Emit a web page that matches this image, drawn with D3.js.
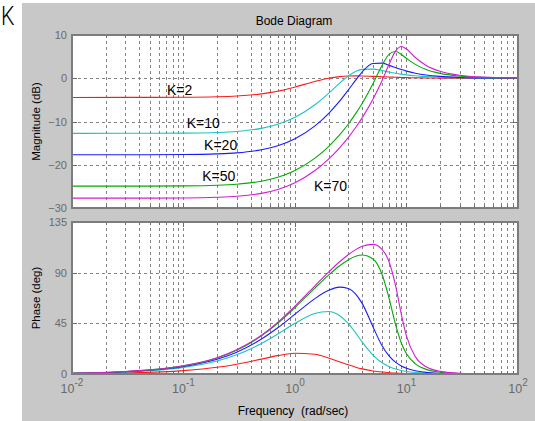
<!DOCTYPE html>
<html lang="en">
<head>
  <meta charset="UTF-8">
  <title>Bode Diagram</title>
  <script src="https://cdn.jsdelivr.net/npm/d3@7"></script>
  <style>
    body {
      margin: 0;
      background: white;
    }

    svg {
      display: block;
      font-family: "Liberation Sans", Arial, sans-serif;
    }
  </style>
</head>
<body>
  <div id="chart"></div>
  <script>
    // frequency samples (rad/sec) shared by every curve
    const freqs = [0.01, 0.03, 0.1, 0.2, 0.3, 0.5, 0.7, 1, 1.5, 2, 2.5, 3, 3.5, 4, 5, 6, 7, 8, 9, 10, 12, 15, 20, 30, 50, 100]

    const gains = ['K=2', 'K=10', 'K=20', 'K=50', 'K=70']

    // magnitude (dB)
    const magK2 = [-4.44, -4.43, -4.40, -4.29, -4.11, -3.61, -3.00, -2.04, -0.76, 0, 0.37, 0.51, 0.54, 0.52, 0.43, 0.35, 0.28, 0.23, 0.19, 0.15, 0.11, 0.07, 0.04, 0.02, 0.01, 0]
    const magK10 = [-12.74, -12.73, -12.69, -12.54, -12.30, -11.59, -10.65, -9.03, -6.18, -3.49, -1.19, 0.51, 1.56, 2.05, 2.11, 1.78, 1.44, 1.17, 0.96, 0.79, 0.57, 0.37, 0.21, 0.10, 0.04, 0.01]
    const magK20 = [-17.69, -17.69, -17.64, -17.49, -17.25, -16.54, -15.61, -13.98, -11.06, -8.16, -5.37, -2.76, -0.44, 1.44, 3.40, 3.49, 2.98, 2.44, 2.00, 1.65, 1.17, 0.76, 0.43, 0.19, 0.07, 0.02]
    const magK50 = [-24.94, -24.94, -24.89, -24.75, -24.51, -23.82, -22.91, -21.34, -18.54, -15.79, -13.15, -10.63, -8.19, -5.83, -1.27, 2.84, 5.59, 6.17, 5.50, 4.61, 3.21, 2.02, 1.12, 0.49, 0.18, 0.04]
    const magK70 = [-27.72, -27.72, -27.68, -27.53, -27.30, -26.61, -25.71, -24.15, -21.40, -18.71, -16.15, -13.72, -11.40, -9.16, -4.86, -0.68, 3.29, 6.33, 7.35, 6.75, 4.80, 2.97, 1.61, 0.69, 0.25, 0.06]

    // phase (deg)
    const phaseK2 = [0.31, 0.92, 3.04, 5.96, 8.68, 13.20, 16.29, 18.43, 17.50, 14.25, 10.88, 8.14, 6.07, 4.58, 2.73, 1.72, 1.14, 0.78, 0.58, 0.42, 0.25, 0.14, 0.06, 0.02, 0, 0]
    const phaseK10 = [0.59, 1.76, 5.86, 11.59, 17.10, 27.11, 35.50, 45.00, 53.71, 55.49, 52.03, 45.00, 36.52, 28.47, 16.77, 10.19, 6.54, 4.42, 3.13, 2.28, 1.32, 0.68, 0.29, 0.08, 0.02, 0]
    const phaseK20 = [0.66, 1.99, 6.62, 13.12, 19.41, 31.01, 41.03, 53.13, 66.75, 74.29, 77.17, 75.97, 70.97, 62.72, 42.02, 25.53, 15.79, 10.28, 7.06, 5.04, 2.84, 1.42, 0.59, 0.17, 0.04, 0.01]
    const phaseK50 = [0.72, 2.16, 7.19, 14.25, 21.11, 33.86, 45.07, 59.03, 76.14, 87.85, 95.94, 101.31, 104.49, 105.71, 102.19, 89.28, 66.80, 43.34, 27.36, 17.99, 9.01, 4.11, 1.59, 0.44, 0.09, 0.01]
    const phaseK70 = [0.73, 2.20, 7.31, 14.49, 21.47, 34.45, 45.91, 60.25, 78.03, 90.51, 99.49, 105.95, 110.47, 113.41, 115.11, 111.00, 99.27, 78.02, 52.70, 33.57, 15.26, 6.42, 2.36, 0.64, 0.13, 0.02]

    const magTicks = [-30, -20, -10, 0, 10]
    const phaseTicks = [0, 45, 90, 135]
    const decades = [-2, -1, 0, 1, 2]

    const mags = [magK2, magK10, magK20, magK50, magK70]
    const phases = [phaseK2, phaseK10, phaseK20, phaseK50, phaseK70]
    const colors = ['#ff1a1a', '#1ec3c3', '#1a1aff', '#00aa00', '#d21ed2']

    const width = 535
    const height = 421
    const left = 72
    const right = 518
    const gridColor = '#858585'
    const tickColor = '#6a6a6a'

    const svg = d3.select('#chart')
      .append('svg')
      .attr('width', width)
      .attr('height', height)

    // figure background
    svg.append('rect')
      .attr('x', 22)
      .attr('y', 3)
      .attr('width', width - 22)
      .attr('height', height - 3)
      .attr('fill', '#c8c8c8')

    svg.append('text')
      .attr('transform', 'translate(1, 25) scale(0.82, 1)')
      .style('font-size', '26px')
      .style('font-family', 'Roboto, "Liberation Sans", sans-serif')
      .style('font-weight', 300)
      .text('K')

    const x = d3.scaleLog()
      .domain([0.01, 100])
      .range([left, right])

    const yMag = d3.scaleLinear()
      .domain([-30, 10])
      .range([208, 35])

    const yPhase = d3.scaleLinear()
      .domain([0, 135])
      .range([374, 222])

    // minor + major frequency grid values
    const gridFreqs = []
    decades.slice(0, -1).forEach(e => {
      for (let m = 1; m < 10; m++) gridFreqs.push(m * Math.pow(10, e))
    })

    function panel(y, yTicks, series, yLabel) {
      const [y0, y1] = y.range()
      const g = svg.append('g')

      g.append('rect')
        .attr('x', left)
        .attr('y', y1)
        .attr('width', right - left)
        .attr('height', y0 - y1)
        .attr('fill', 'white')

      g.selectAll('.vgrid')
        .data(gridFreqs.slice(1))
        .enter()
        .append('line')
        .attr('x1', d => Math.round(x(d)) + 0.5)
        .attr('x2', d => Math.round(x(d)) + 0.5)
        .attr('y1', y1)
        .attr('y2', y0)
        .attr('stroke', gridColor)
        .attr('stroke-dasharray', '3,3')

      g.selectAll('.hgrid')
        .data(yTicks.slice(1, -1))
        .enter()
        .append('line')
        .attr('x1', left)
        .attr('x2', right)
        .attr('y1', d => Math.round(y(d)) + 0.5)
        .attr('y2', d => Math.round(y(d)) + 0.5)
        .attr('stroke', gridColor)
        .attr('stroke-dasharray', '3,3')

      // inward ticks on all sides
      gridFreqs.slice(1).forEach(f => {
        const len = Number.isInteger(Math.log10(f)) ? 5 : 3
        const px = Math.round(x(f)) + 0.5
        g.append('line').attr('x1', px).attr('x2', px).attr('y1', y0).attr('y2', y0 - len).attr('stroke', tickColor)
        g.append('line').attr('x1', px).attr('x2', px).attr('y1', y1).attr('y2', y1 + len).attr('stroke', tickColor)
      })
      yTicks.forEach(t => {
        const py = Math.round(y(t)) + 0.5
        g.append('line').attr('x1', left).attr('x2', left + 5).attr('y1', py).attr('y2', py).attr('stroke', tickColor)
        g.append('line').attr('x1', right).attr('x2', right - 5).attr('y1', py).attr('y2', py).attr('stroke', tickColor)
      })

      const line = d3.line()
        .x((d, i) => x(freqs[i]))
        .y(d => y(d))
        .curve(d3.curveMonotoneX)

      g.selectAll('.curve')
        .data(series)
        .enter()
        .append('path')
        .attr('d', d => line(d))
        .attr('fill', 'none')
        .attr('stroke', (d, i) => colors[i])
        .attr('stroke-width', 1.1)

      g.append('rect')
        .attr('x', left)
        .attr('y', y1)
        .attr('width', right - left)
        .attr('height', y0 - y1)
        .attr('fill', 'none')
        .attr('stroke', '#7c7c7c')
        .attr('stroke-width', 2)

      const yAxis = d3.axisLeft(y)
        .tickValues(yTicks)
        .tickSize(0)
        .tickPadding(5)

      const ax = g.append('g')
        .attr('transform', `translate(${left}, 0)`)
        .call(yAxis)
      ax.select('.domain').remove()
      ax.selectAll('text')
        .attr('fill', tickColor)
        .style('font-size', '11px')
        .style('font-family', '"Liberation Sans", Arial, sans-serif')

      svg.append('text')
        .attr('transform', `translate(40, ${(y0 + y1) / 2}) rotate(-90)`)
        .attr('text-anchor', 'middle')
        .style('font-size', '11.5px')
        .text(yLabel)
    }

    panel(yMag, magTicks, mags, 'Magnitude (dB)')
    panel(yPhase, phaseTicks, phases, 'Phase (deg)')

    // K labels, placed in data coordinates of the magnitude plot
    const labelAt = [[0.071, -3.9], [0.107, -11.5], [0.153, -16.6], [0.147, -23.8], [1.48, -26.1]]
    svg.selectAll('.klabel')
      .data(gains)
      .enter()
      .append('text')
      .attr('x', (d, i) => x(labelAt[i][0]))
      .attr('y', (d, i) => yMag(labelAt[i][1]))
      .style('font-size', '14px')
      .text(d => d)

    // decade labels 10^n
    const xl = svg.selectAll('.xlabel')
      .data(decades)
      .enter()
      .append('text')
      .attr('x', d => x(Math.pow(10, d)))
      .attr('y', 393)
      .attr('text-anchor', 'middle')
      .attr('fill', tickColor)
      .style('font-size', '12.5px')
    xl.append('tspan').text('10')
    xl.append('tspan')
      .attr('dy', -7)
      .style('font-size', '10px')
      .text(d => d)

    svg.append('text')
      .attr('x', (left + right) / 2 - 1)
      .attr('y', 25)
      .attr('text-anchor', 'middle')
      .style('font-size', '12px')
      .text('Bode Diagram')

    svg.append('text')
      .attr('x', (left + right) / 2 - 2)
      .attr('y', 415)
      .attr('text-anchor', 'middle')
      .style('font-size', '12px')
      .style('white-space', 'pre')
      .text('Frequency  (rad/sec)')
  </script>
</body>
</html>
